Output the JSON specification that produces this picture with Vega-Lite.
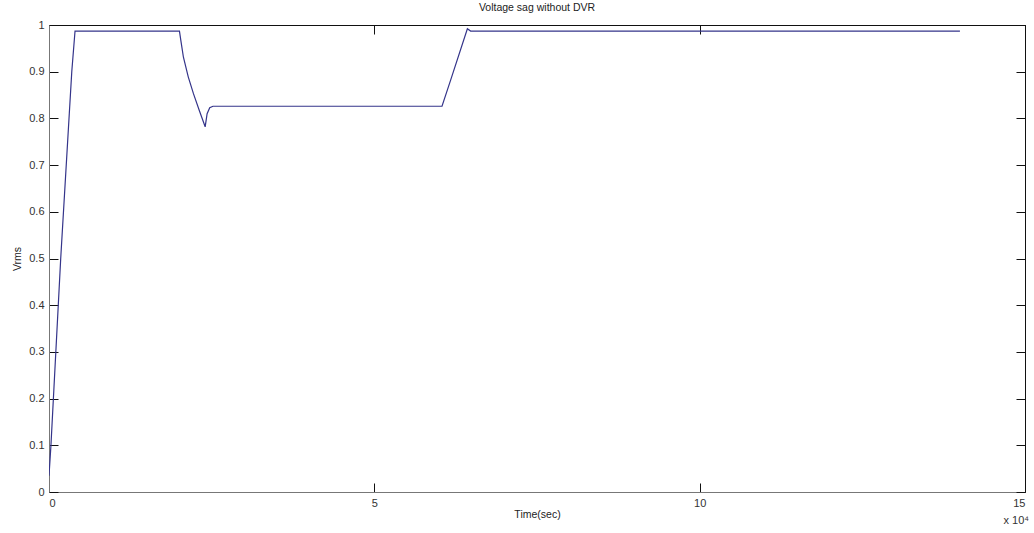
{
  "$schema": "https://vega.github.io/schema/vega-lite/v6.json",
  "width": 976,
  "height": 467,
  "autosize": "none",
  "padding": {"left": 49, "top": 25, "right": 9, "bottom": 41},
  "background": "white",
  "title": {"text": "Voltage sag without DVR", "fontSize": 10.5, "font": "Liberation Sans", "fontWeight": "normal", "color": "#222", "offset": 6},
  "config": {
    "view": {"stroke": "#111", "strokeWidth": 1},
    "axis": {"labelFont": "Liberation Sans", "titleFont": "Liberation Sans", "labelFontSize": 11, "titleFontSize": 10.5, "titleFontWeight": "normal", "labelColor": "#333", "titleColor": "#222", "grid": false, "tickColor": "#111", "domainColor": "#777", "tickSize": -9, "labelPadding": 14}
  },
  "data": {"values": [
    {"t": 0, "v": 0.035},
    {"t": 300, "v": 0.1},
    {"t": 1800, "v": 0.5},
    {"t": 3500, "v": 0.9},
    {"t": 4000, "v": 0.987},
    {"t": 20050, "v": 0.987},
    {"t": 20260, "v": 0.967},
    {"t": 20660, "v": 0.931},
    {"t": 21400, "v": 0.889},
    {"t": 22200, "v": 0.853},
    {"t": 23100, "v": 0.817},
    {"t": 24000, "v": 0.782},
    {"t": 24300, "v": 0.81},
    {"t": 24700, "v": 0.823},
    {"t": 25200, "v": 0.826},
    {"t": 60400, "v": 0.826},
    {"t": 61700, "v": 0.881},
    {"t": 64300, "v": 0.992},
    {"t": 64800, "v": 0.987},
    {"t": 140000, "v": 0.987}
  ]},
  "layer": [
    {
      "mark": {"type": "line", "color": "#34348a", "strokeWidth": 1.2, "clip": true},
      "encoding": {
        "x": {"field": "t", "type": "quantitative", "scale": {"domain": [0, 150000], "nice": false, "zero": false},
              "axis": {"values": [0, 50000, 100000, 150000], "labelExpr": "datum.value / 10000", "title": "Time(sec)", "titlePadding": 1, "labelPadding": 14}},
        "y": {"field": "v", "type": "quantitative", "scale": {"domain": [0, 1], "nice": false},
              "axis": {"values": [0, 0.1, 0.2, 0.3, 0.4, 0.5, 0.6, 0.7, 0.8, 0.9, 1], "labelExpr": "format(datum.value, '.1~f')", "title": "Vrms", "titlePadding": 6}}
      }
    },
    {
      "mark": {"type": "line", "strokeOpacity": 0},
      "encoding": {
        "x": {"field": "t", "type": "quantitative", "axis": {"orient": "top", "values": [0, 50000, 100000, 150000], "labels": false, "title": null, "domainColor": "#111"}},
        "y": {"field": "v", "type": "quantitative", "axis": {"orient": "right", "values": [0, 0.1, 0.2, 0.3, 0.4, 0.5, 0.6, 0.7, 0.8, 0.9, 1], "labels": false, "title": null, "domainColor": "#111"}}
      }
    },
    {
      "data": {"values": [{"t": 150000, "v": 0, "label": "x 10⁴"}]},
      "mark": {"type": "text", "font": "Liberation Sans", "fontSize": 11, "color": "#333", "align": "right", "baseline": "alphabetic", "dx": 4, "dy": 32},
      "encoding": {
        "x": {"field": "t", "type": "quantitative", "axis": null},
        "y": {"field": "v", "type": "quantitative", "axis": null},
        "text": {"field": "label"}
      }
    }
  ],
  "resolve": {"axis": {"x": "independent", "y": "independent"}}
}
